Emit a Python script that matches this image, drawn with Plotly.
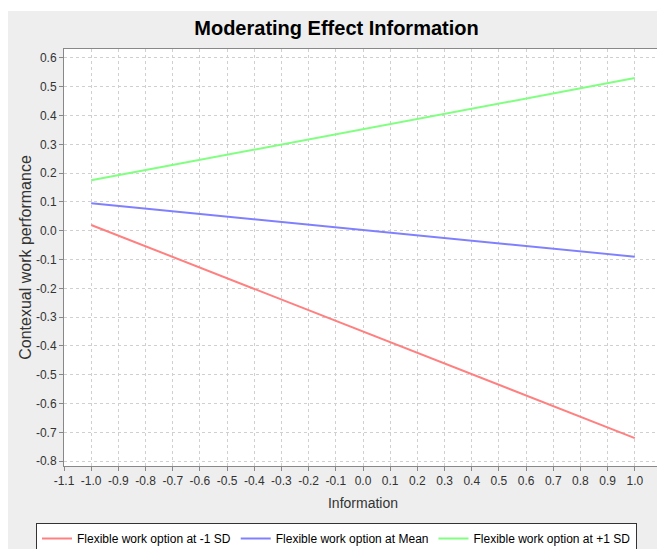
import plotly.graph_objects as go

x_vals = [-1.0, 1.0]
low_sd = [0.02, -0.72]
mean_vals = [0.095, -0.09]
high_sd = [0.175, 0.53]
series_names = ["Flexible work option at -1 SD", "Flexible work option at Mean", "Flexible work option at +1 SD"]
series_colors = ["#ff8080", "#8080ff", "#80ff80"]

x_ticks = [round(-1.1 + 0.1 * i, 1) for i in range(23)]
y_ticks = [round(-0.8 + 0.1 * i, 1) for i in range(15)]

FONT = "Liberation Sans, Arial, sans-serif"

fig = go.Figure()
for name, ys, c in zip(series_names, [low_sd, mean_vals, high_sd], series_colors):
    fig.add_trace(go.Scatter(x=x_vals, y=ys, mode="lines", name=name,
                             line=dict(color=c, width=2)))

axis_common = dict(
    showgrid=True, gridcolor="#d0d0d0", griddash="dot", gridwidth=1,
    showline=True, linecolor="#888888", linewidth=1, mirror=True,
    ticks="outside", ticklen=4, tickcolor="#888888",
    zeroline=False, tickfont=dict(family=FONT, size=12, color="#333333"),
)

fig.update_xaxes(range=[-1.1, 1.1], tickvals=x_ticks,
                 ticktext=[f"{v:.1f}" for v in x_ticks],
                 title=dict(text="Information", font=dict(family=FONT, size=14, color="#333333"), standoff=10),
                 **axis_common)
fig.update_yaxes(range=[-0.817, 0.631], tickvals=y_ticks,
                 ticktext=[f"{v:.1f}" for v in y_ticks],
                 title=dict(text="Contexual work performance", font=dict(family=FONT, size=16, color="#333333"), standoff=0),
                 **axis_common)

fig.update_layout(
    width=657, height=541,
    margin=dict(l=56, r=3, t=41, b=83, autoexpand=False),
    paper_bgcolor="#eeeeee", plot_bgcolor="#ffffff",
    title=dict(text="<b>Moderating Effect Information</b>", x=0.5, xanchor="center",
               y=1 - 20 / 541, yanchor="middle",
               font=dict(family=FONT, size=20, color="#000000")),
    legend=dict(orientation="h", xref="container", yref="container",
                x=0.5, xanchor="center", y=1 - 515 / 541, yanchor="top",
                bgcolor="#ffffff", bordercolor="#333333", borderwidth=1,
                font=dict(family=FONT, size=12, color="#000000"),
                itemwidth=30, tracegroupgap=0),
    shapes=[dict(type="rect", xref="paper", yref="paper", x0=-0.2, x1=1.2,
                 y0=1 + 38 / 417, y1=1.2, fillcolor="#ffffff", line=dict(width=0), layer="below")],
)

fig.write_html("out.html")
